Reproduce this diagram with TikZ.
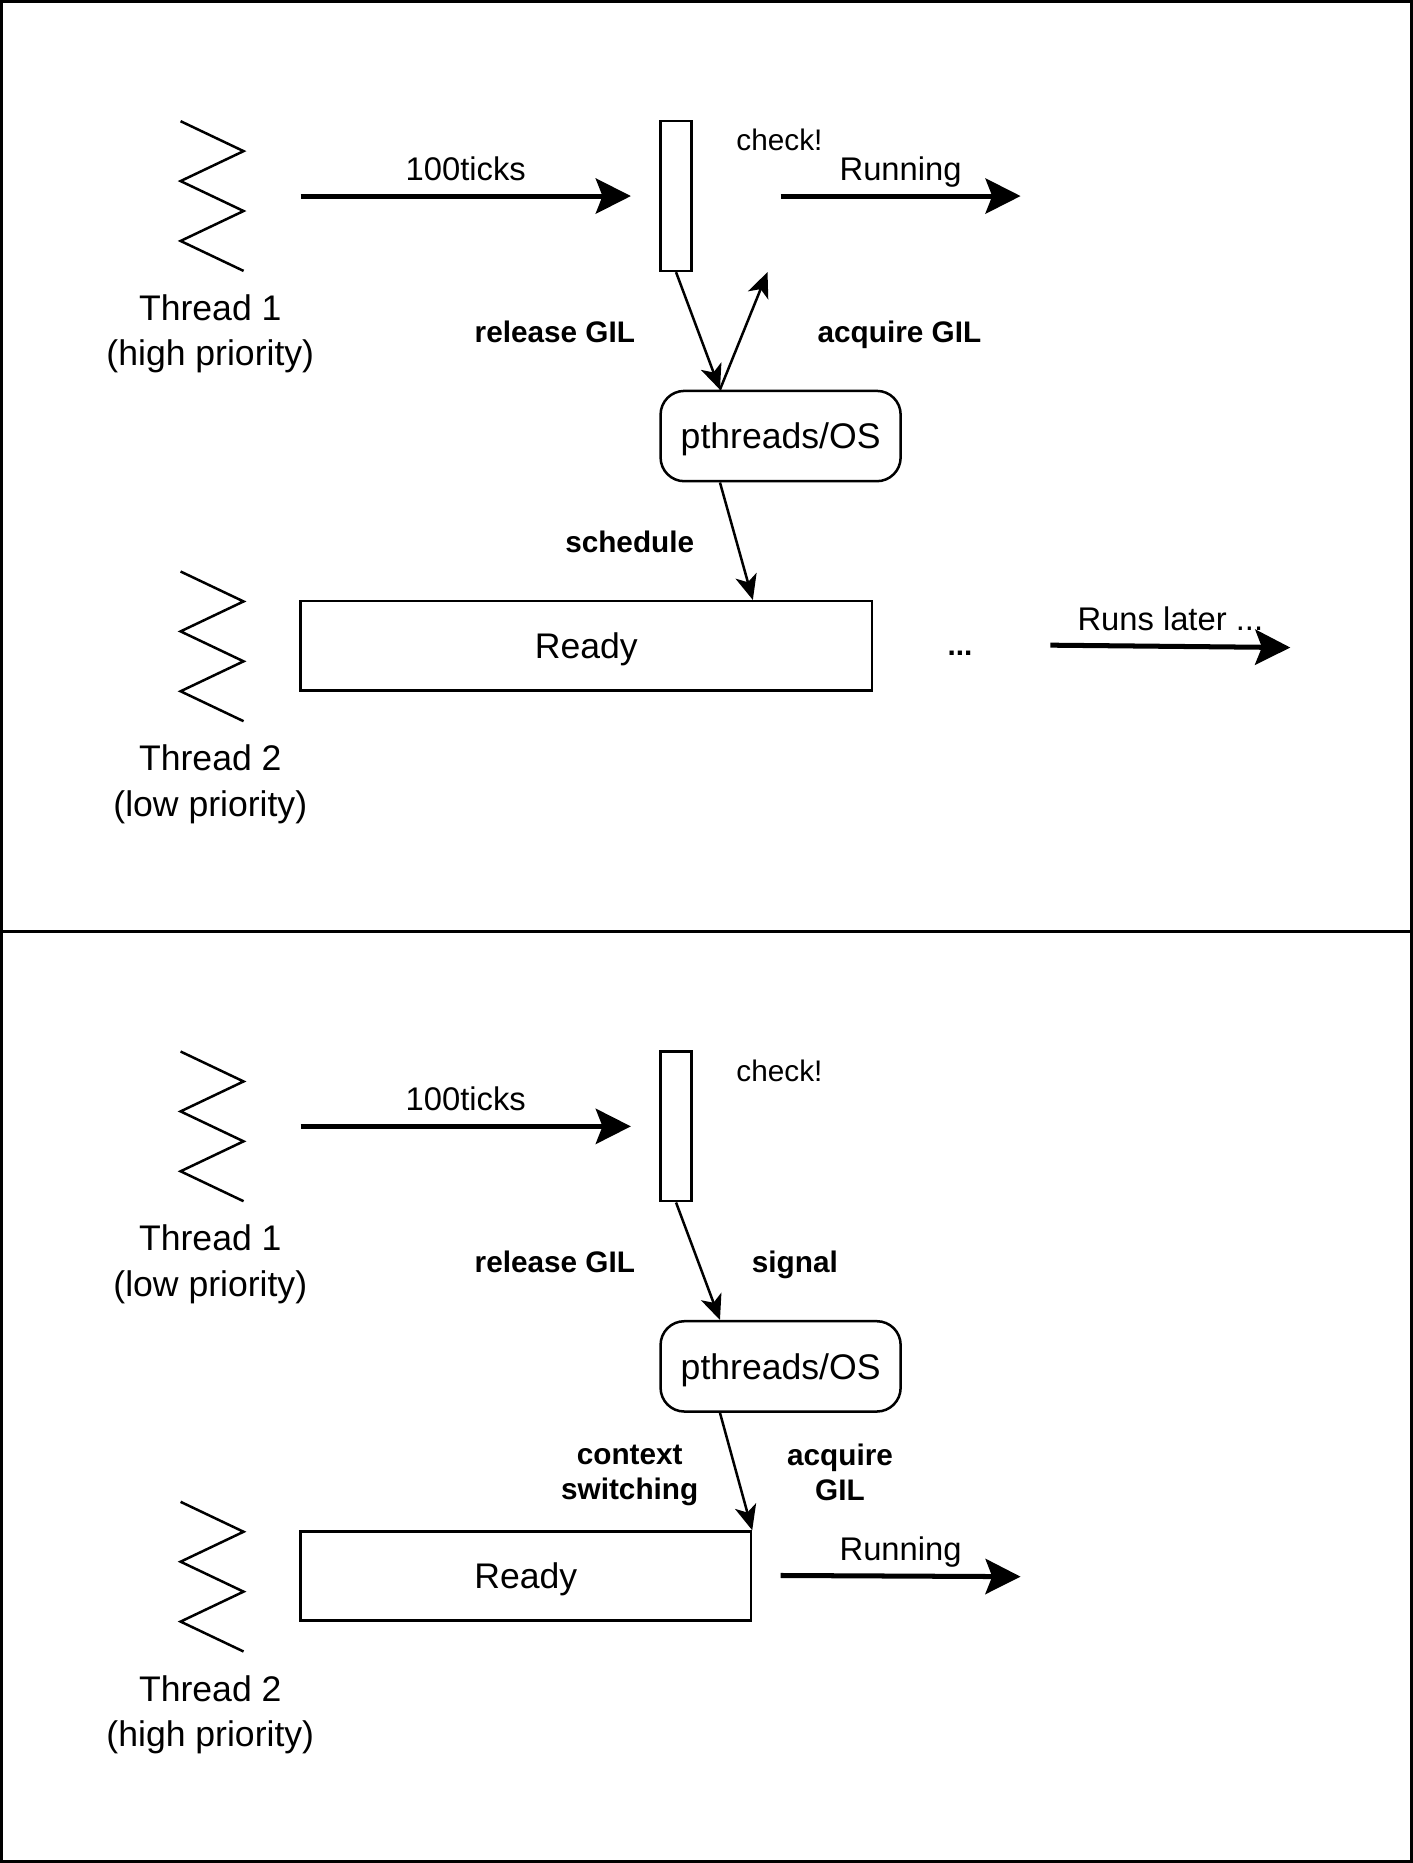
\documentclass[tikz,border=0pt]{standalone}
\usepackage{fontspec}
\setmainfont{Liberation Sans}
\usetikzlibrary{positioning, arrows.meta, calc}

\begin{document}
\begin{tikzpicture}
	[x=0.025cm, y=-0.025cm, line width=1.5pt,
	 thread/.style={align=center, text depth=0pt, font=\fontsize{21.3}{27}\selectfont},
	 gilbox/.style={draw, minimum width=0.65cm, minimum height=3.15cm, inner sep=0pt},
	 osbox/.style={draw, rounded corners=0.5cm, minimum width=5.05cm, minimum height=1.9cm, text depth=0pt, font=\fontsize{21.3}{26}\selectfont},
	 readybox/.style={draw, minimum height=1.875cm, text depth=0pt, font=\fontsize{21.3}{26}\selectfont},
	 runarrow/.style={line width=3pt, -{Stealth[length=21pt, width=21pt, inset=4pt]}},
	 gilarrow/.style={-{Stealth[length=15pt, width=13pt, inset=4pt]}},
	 arrowtext/.style={text depth=0pt, font=\fontsize{19.6}{24}\selectfont},
	 checknote/.style={text depth=0pt, font=\fontsize{17.8}{21}\selectfont},
	 gillabel/.style={align=center, text depth=0pt, font=\bfseries\fontsize{17.8}{21.3}\selectfont}]
   \useasboundingbox (0,0) rectangle (1189,1568);
   \draw[line width=1.7pt] (1.2,1.2) rectangle (1187.8,1566.8);
   \draw[line width=1.7pt] (0,784) -- (1189,784);

   \foreach \y in {102,481,885,1264}
      \draw (152,\y) -- ++(53,25.2) -- ++(-53,25.2) -- ++(53,25.2) -- ++(-53,25.2) -- ++(53,25.2);

   % high priority thread holds the GIL
   \node[thread] (th1a) at (177,278) {Thread 1\\(high priority)};
   \node[thread] (th2a) at (177,657) {Thread 2\\(low priority)};
   \node[gilbox] (chk1) at (569,165) {};
   \node[osbox] (os1) at (657,367) {pthreads/OS};
   \node[readybox, minimum width=12.025cm] (rdy1) at (493.5,543.5) {Ready};
   \node[checknote] (chk1n) at (656,118) {check!};

   \coordinate (t1a) at (253,165);
   \coordinate (t1b) at (531,165);
   \coordinate (r1a) at (657,165);
   \coordinate (r1b) at (859,165);
   \coordinate (acq1) at (646,229);
   \coordinate (l1a) at (884,543);
   \coordinate (l1b) at (1086,545);

   \draw[runarrow] (t1a) -- node[arrowtext, yshift=0.575cm] {100ticks} (t1b);
   \draw[runarrow] (r1a) -- node[arrowtext, yshift=0.575cm] {Running} (r1b);
   \draw[runarrow] (l1a) -- node[arrowtext, yshift=0.575cm] {Runs later ...} (l1b);
   \draw[gilarrow] (chk1.south) -- ($(os1.north west)!0.25!(os1.north east)$) coordinate (os1top);
   \draw[gilarrow] (os1top) -- (acq1);
   \draw[gilarrow] ($(os1.south west)!0.25!(os1.south east)$) -- ($(rdy1.north west)!0.79!(rdy1.north east)$);

   \node[gillabel] (rel1) at (467,279) {release GIL};
   \node[gillabel] (acq1n) at (757,279) {acquire GIL};
   \node[gillabel] (sch1) at (530,456) {schedule};
   \node[gillabel] (dots1) at (808,550) {...};

   % low priority thread gives the GIL away
   \node[thread] (th1b) at (177,1061) {Thread 1\\(low priority)};
   \node[thread] (th2b) at (177,1440) {Thread 2\\(high priority)};
   \node[gilbox] (chk2) at (569,948) {};
   \node[osbox] (os2) at (657,1150) {pthreads/OS};
   \node[readybox, minimum width=9.475cm] (rdy2) at (442.5,1326.5) {Ready};
   \node[checknote] (chk2n) at (656,901) {check!};

   \coordinate (t2a) at (253,948);
   \coordinate (t2b) at (531,948);
   \coordinate (r2a) at (657,1326);
   \coordinate (r2b) at (859,1327);

   \draw[runarrow] (t2a) -- node[arrowtext, yshift=0.575cm] {100ticks} (t2b);
   \draw[runarrow] (r2a) -- node[arrowtext, yshift=0.575cm] {Running} (r2b);
   \draw[gilarrow] (chk2.south) -- ($(os2.north west)!0.25!(os2.north east)$);
   \draw[gilarrow] ($(os2.south west)!0.25!(os2.south east)$) -- (rdy2.north east);

   \node[gillabel] (rel2) at (467,1062) {release GIL};
   \node[gillabel] (sig2) at (669,1062) {signal};
   \node[gillabel] (ctx2) at (530,1239) {context\\switching};
   \node[gillabel] (acq2) at (707,1239) {acquire\\GIL};

\end{tikzpicture}
\end{document}
